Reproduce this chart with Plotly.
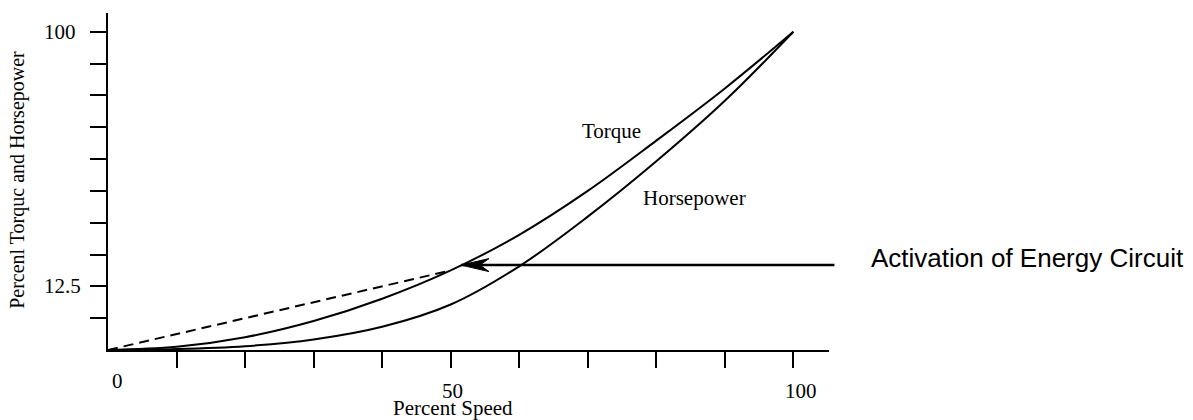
import numpy as np
import plotly.graph_objects as go

# Percent speed sample points and the two characteristic curves
speed = [0, 10, 20, 30, 40, 50, 60, 70, 80, 90, 100]
torque = [0, 1.0, 4.0, 9.1, 16.1, 25.0, 36.2, 50.0, 65.8, 82.2, 100]
horsepower = [0, 0.3, 1.2, 3.3, 7.3, 14.3, 26.3, 41.9, 59.3, 78.3, 100]

# Tick marks and the labels printed on the axes
x_tick_vals = [10, 20, 30, 40, 50, 60, 70, 80, 90, 100]
y_tick_vals = [10, 20, 30, 40, 50, 60, 70, 80, 90, 100]
x_label_vals = [0, 50, 100]
x_label_text = ["0", "50", "100"]
y_label_vals = [100, 20]
y_label_text = ["100", "12.5"]

# Point where the energy circuit activates (on the torque curve)
dash_end_speed = 50
arrow_speed = 51.5

SERIF = "Liberation Serif, Times New Roman, serif"
SANS = "Liberation Sans, Arial, Helvetica, sans-serif"
INK = "#000000"
TXT = 21

dash_end_val = float(np.interp(dash_end_speed, speed, torque))
arrow_val = float(np.interp(arrow_speed, speed, torque))

fig = go.Figure()

fig.add_trace(go.Scatter(
    x=speed, y=torque, mode="lines", line=dict(color=INK, width=2, shape="spline"),
    hoverinfo="skip", showlegend=False, cliponaxis=False))
fig.add_trace(go.Scatter(
    x=speed, y=horsepower, mode="lines", line=dict(color=INK, width=2, shape="spline"),
    hoverinfo="skip", showlegend=False, cliponaxis=False))
fig.add_trace(go.Scatter(
    x=[0, dash_end_speed], y=[0, dash_end_val], mode="lines",
    line=dict(color=INK, width=2, dash="10px,6px"),
    hoverinfo="skip", showlegend=False))

x_px_per_unit = 721 / 105.2
y_px_per_unit = 337 / 105.9

annotations = []

# tick labels along the speed axis
x_shifts = [9, 2, 8]
y_shifts = [-31, -41, -41]
for v, t, xs, ys in zip(x_label_vals, x_label_text, x_shifts, y_shifts):
    annotations.append(dict(x=v, y=0, xref="x", yref="paper", text=t, showarrow=False,
                            xanchor="center", yanchor="middle", xshift=xs, yshift=ys,
                            font=dict(family=SERIF, size=TXT, color=INK)))
annotations.append(dict(x=50, y=0, xref="x", yref="paper", text="Percent Speed", showarrow=False,
                        xanchor="center", yanchor="middle", xshift=2, yshift=-58,
                        font=dict(family=SERIF, size=TXT, color=INK)))

# tick labels along the vertical axis
for v, t in zip(y_label_vals, y_label_text):
    annotations.append(dict(x=-0.0915, y=v, xref="paper", yref="y", text=t, showarrow=False,
                            xanchor="left", yanchor="middle",
                            font=dict(family=SERIF, size=TXT, color=INK)))
annotations.append(dict(x=-0.1248, y=0.505, xref="paper", yref="paper",
                        text="Percenl Torquc and Horsepower", showarrow=False, textangle=-90,
                        xanchor="center", yanchor="middle",
                        font=dict(family=SERIF, size=20, color=INK)))

# curve names
annotations.append(dict(x=73.4, y=68.9, xref="x", yref="y", text="Torque", showarrow=False,
                        xanchor="center", yanchor="middle",
                        font=dict(family=SERIF, size=TXT, color=INK)))
annotations.append(dict(x=85.6, y=47.7, xref="x", yref="y", text="Horsepower", showarrow=False,
                        xanchor="center", yanchor="middle",
                        font=dict(family=SERIF, size=TXT, color=INK)))

# arrow shaft from the callout back to the torque curve
annotations.append(dict(x=arrow_speed, y=arrow_val, xref="x", yref="y", text="",
                        showarrow=True, arrowhead=0, arrowwidth=2.5, arrowcolor=INK,
                        ax=375, ay=0, axref="pixel", ayref="pixel", standoff=0))
annotations.append(dict(x=1.0555, y=0.273, xref="paper", yref="paper",
                        text="Activation of Energy Circuit", showarrow=False,
                        xanchor="left", yanchor="middle",
                        font=dict(family=SANS, size=26, color=INK)))

# barbed arrowhead at the tip
head_len = 28 / x_px_per_unit
notch = 19 / x_px_per_unit
half_w = 6.5 / y_px_per_unit
tx, ty = arrow_speed, arrow_val
head_path = (f"M {tx},{ty} L {tx + head_len},{ty + half_w} L {tx + notch},{ty} "
             f"L {tx + head_len},{ty - half_w} Z")
shapes = [dict(type="path", xref="x", yref="y", path=head_path,
               fillcolor=INK, line=dict(color=INK, width=1))]

axis_common = dict(showline=True, linecolor=INK, linewidth=2, ticks="outside",
                   ticklen=16, tickwidth=2, tickcolor=INK, showgrid=False,
                   zeroline=False, showticklabels=False, fixedrange=True)

fig.update_layout(
    width=1193, height=420,
    margin=dict(l=108, r=364, t=13, b=70),
    paper_bgcolor="white", plot_bgcolor="white",
    xaxis=dict(range=[0, 105.2], tickvals=x_tick_vals, **axis_common),
    yaxis=dict(range=[0, 105.9], tickvals=y_tick_vals, **axis_common),
    annotations=annotations, shapes=shapes,
)

fig.write_html("out.html")
